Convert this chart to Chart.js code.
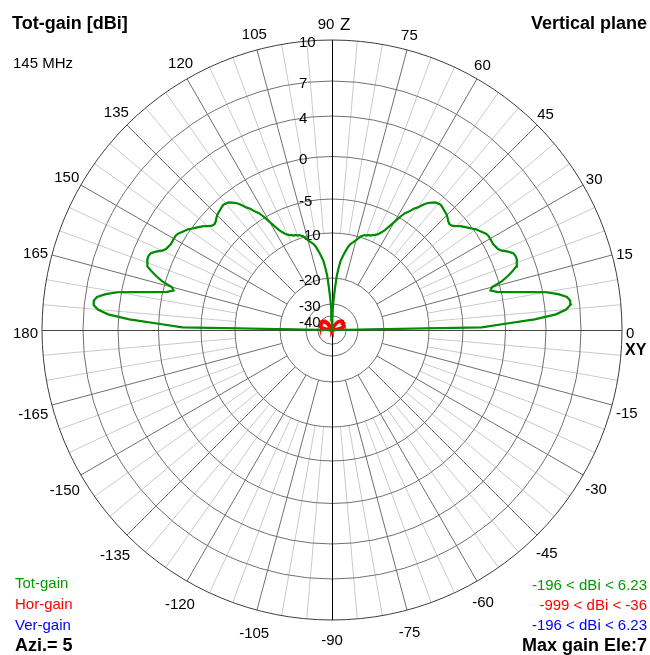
<!DOCTYPE html>
<html>
<head>
<meta charset="utf-8">
<script src="https://cdn.jsdelivr.net/npm/chart.js@4/dist/chart.umd.min.js"></script>
<style>
  html, body { margin: 0; padding: 0; background: #fff; }
  canvas { display: block; }
</style>
</head>
<body>
<canvas id="polarChart" width="650" height="655"></canvas>
<script>
// 仰角 (度) 0..180
const elevation = Array.from({ length: 181 }, (_, i) => i);

// 合成利得 [dBi]
const totGain = [
  -196, -2.8, -0.2, 2.9, 4.9, 5.8, 6.2, 6.23, 6.0, 5.3,
  4.3, 2.5, 0.9, -0.5, -1.2, -0.9, 0.3, 1.0, 1.6, 2.1,
  2.3, 2.4, 2.4, 2.3, 1.9, 1.4, 1.1, 1.0, 0.9, 0.9,
  0.9, 0.9, 0.8, 0.6, 0.4, 0.2, -0.1, -0.4, -0.7, -1.0,
  -1.4, -1.7, -1.8, -1.7, -1.5, -1.3, -1.2, -1.1, -1.0, -0.9,
  -1.0, -1.1, -1.4, -1.7, -2.2, -2.8, -3.2, -3.8, -4.2, -4.9,
  -5.9, -6.8, -7.6, -8.1, -8.5, -8.8, -9.0, -9.1, -9.3, -9.3,
  -9.5, -9.5, -9.7, -9.9, -10.4, -10.9, -11.3, -11.7, -12.1, -12.7,
  -13.6, -14.4, -15.3, -16.2, -17.8, -19.6, -24.2, -28.5, -34.5, -44.5,
  -196,
  -44.5, -34.5, -28.5, -24.2, -19.6, -17.8, -16.2, -15.3, -14.4, -13.6,
  -12.7, -12.1, -11.7, -11.3, -10.9, -10.4, -9.9, -9.7, -9.5, -9.5,
  -9.3, -9.3, -9.1, -9.0, -8.8, -8.5, -8.1, -7.6, -6.8, -5.9,
  -4.9, -4.2, -3.8, -3.2, -2.8, -2.2, -1.7, -1.4, -1.1, -1.0,
  -0.9, -1.0, -1.1, -1.2, -1.3, -1.5, -1.7, -1.8, -1.7, -1.4,
  -1.0, -0.7, -0.4, -0.1, 0.2, 0.4, 0.6, 0.8, 0.9, 0.9,
  0.9, 0.9, 1.0, 1.1, 1.4, 1.9, 2.3, 2.4, 2.4, 2.3,
  2.1, 1.6, 1.0, 0.3, -0.9, -1.2, -0.5, 0.9, 2.5, 4.3,
  5.3, 6.0, 6.23, 6.2, 5.8, 4.9, 2.9, -0.2, -2.8, -196
];

// 水平偏波成分 [dBi]
const horGain = [
  -999, -999, -999, -62, -58, -55, -53, -51, -49.5, -48,
  -47, -46, -45, -44.3, -43.7, -43.2, -42.8, -42.5, -42.2, -42,
  -41.8, -41.7, -41.6, -41.5, -41.5, -41.4, -41.3, -41.2, -41.2, -41.1,
  -41.1, -41.2, -41.3, -41.4, -41.5, -41.4, -41.3, -41.2, -41.1, -41.0,
  -41.0, -41.1, -41.2, -41.4, -41.6, -41.8, -42, -42.2, -42.4, -42.7,
  -43, -43.3, -43.6, -44, -44.4, -44.8, -45.3, -45.8, -46.3, -47,
  -47.7, -48.5, -49.4, -50.4, -51.5, -53, -55, -58, -62, -999,
  -999, -999, -999, -999, -999, -999, -999, -999, -999, -999,
  -999, -999, -999, -999, -999, -999, -999, -999, -999, -999,
  -999,
  -999, -999, -999, -999, -999, -999, -999, -999, -999, -999,
  -999, -999, -999, -999, -999, -999, -999, -999, -999, -999,
  -999, -62, -58, -55, -53, -51.5, -50.4, -49.4, -48.5, -47.7,
  -47, -46.3, -45.8, -45.3, -44.8, -44.4, -44, -43.6, -43.3, -43,
  -42.7, -42.4, -42.2, -42, -41.8, -41.6, -41.4, -41.2, -41.1, -41.0,
  -41.0, -41.1, -41.2, -41.3, -41.4, -41.5, -41.4, -41.3, -41.2, -41.1,
  -41.1, -41.2, -41.2, -41.3, -41.4, -41.5, -41.5, -41.6, -41.7, -41.8,
  -42, -42.2, -42.5, -42.8, -43.2, -43.7, -44.3, -45, -46, -47,
  -48, -49.5, -51, -53, -55, -58, -62, -999, -999, -999
];

// 垂直偏波成分 [dBi] (合成利得と同じ)
const verGain = totGain.slice();

// 目盛り
const ringTicks = [10, 7, 4, 0, -5, -10, -20, -30, -40];
const angleTicks = [0, 15, 30, 45, 60, 75, 90, 105, 120, 135, 150, 165,
  180, 195, 210, 225, 240, 255, 270, 285, 300, 315, 330, 345];
const angleLabels = ['0', '15', '30', '45', '60', '75', '90', '105', '120', '135', '150', '165',
  '180', '-165', '-150', '-135', '-120', '-105', '-90', '-75', '-60', '-45', '-30', '-15'];

// 半径方向の目盛り (dBi -> 外周=1 の半径)
const scaleGain = [-54, -40, -30, -20, -10, -5, 0, 4, 7, 10];
const scaleFrac = [0, 0.049, 0.0897, 0.1793, 0.3345, 0.4517, 0.5983, 0.7379, 0.8586, 1];

function gainToRadius(g) {
  if (g <= scaleGain[0]) return 0;
  for (let i = 1; i < scaleGain.length; i++) {
    if (g <= scaleGain[i]) {
      const t = (g - scaleGain[i - 1]) / (scaleGain[i] - scaleGain[i - 1]);
      return scaleFrac[i - 1] + t * (scaleFrac[i] - scaleFrac[i - 1]);
    }
  }
  return 1;
}

function toPoints(gains) {
  return elevation.map((el, i) => {
    const r = gainToRadius(gains[i]);
    const a = el * Math.PI / 180;
    return { x: r * Math.cos(a), y: r * Math.sin(a) };
  });
}

// キャンバス上の中心と外周半径
const CX = 332, CY = 330, R = 290;
const W = 650, H = 655;
const FONT = "'Liberation Sans', Arial, sans-serif";

const polarGrid = {
  id: 'polarGrid',
  beforeDatasetsDraw(chart) {
    const { ctx, scales: { x, y } } = chart;
    const cx = x.getPixelForValue(0), cy = y.getPixelForValue(0);
    const rx = x.getPixelForValue(1) - cx, ry = cy - y.getPixelForValue(1);
    const spoke = (r0, deg, color) => {
      const a = deg * Math.PI / 180;
      ctx.strokeStyle = color;
      ctx.beginPath();
      ctx.moveTo(cx + r0 * rx * Math.cos(a), cy - r0 * ry * Math.sin(a));
      ctx.lineTo(cx + rx * Math.cos(a), cy - ry * Math.sin(a));
      ctx.stroke();
    };
    ctx.save();
    ctx.lineWidth = 1;
    for (let a = 0; a < 360; a += 5) {
      if (a % 15 !== 0) spoke(gainToRadius(-10), a, '#cacaca');
    }
    for (let a = 0; a < 360; a += 15) {
      if (a % 90 !== 0) spoke(gainToRadius(-20), a, '#6e6e6e');
    }
    ringTicks.forEach(g => {
      const r = gainToRadius(g);
      ctx.strokeStyle = g === 10 ? '#3c3c3c' : '#707070';
      ctx.beginPath();
      ctx.ellipse(cx, cy, r * rx, r * ry, 0, 0, Math.PI * 2);
      ctx.stroke();
    });
    // 軸
    ctx.strokeStyle = '#444';
    ctx.beginPath();
    ctx.moveTo(cx - rx, cy + 0.5);
    ctx.lineTo(cx + rx, cy + 0.5);
    ctx.stroke();
    ctx.strokeStyle = '#000';
    ctx.beginPath();
    ctx.moveTo(cx + 0.5, cy - ry);
    ctx.lineTo(cx + 0.5, cy + ry);
    ctx.stroke();

    // dBi 目盛りラベル
    ctx.fillStyle = '#000';
    ctx.font = '15px ' + FONT;
    ctx.textAlign = 'left';
    ctx.textBaseline = 'middle';
    ringTicks.forEach(g => {
      const r = gainToRadius(g);
      const off = g === -40 ? 7 : 3;
      ctx.fillText(String(g), cx - 33, cy - r * ry + off);
    });
    ctx.restore();
  },
  afterDraw(chart) {
    const { ctx, scales: { x, y } } = chart;
    const cx = x.getPixelForValue(0), cy = y.getPixelForValue(0);
    const rx = x.getPixelForValue(1) - cx, ry = cy - y.getPixelForValue(1);
    ctx.save();
    ctx.fillStyle = '#000';
    ctx.font = '15px ' + FONT;
    ctx.textAlign = 'center';
    ctx.textBaseline = 'middle';
    angleTicks.forEach((deg, i) => {
      if (deg === 90) {
        ctx.fillText('90', cx - 6, cy - ry - 15);
        return;
      }
      const a = deg * Math.PI / 180;
      const c = Math.cos(a), s = Math.sin(a);
      const hw = 0.5 * ctx.measureText(angleLabels[i]).width * Math.abs(c);
      const lx = cx + (rx + 4 + hw + 3 * Math.abs(s)) * c;
      const ly = cy - (ry + 6 + hw + 11 * Math.abs(s)) * s + 4;
      ctx.fillText(angleLabels[i], lx, ly);
    });
    ctx.textAlign = 'left';
    ctx.font = '17px ' + FONT;
    ctx.fillText('Z', cx + 8, cy - ry - 15);
    ctx.font = 'bold 16px ' + FONT;
    ctx.fillText('XY', cx + rx + 3, cy + 21);

    // 見出し
    ctx.textBaseline = 'alphabetic';
    ctx.font = 'bold 18px ' + FONT;
    ctx.fillText('Tot-gain [dBi]', 12, 29);
    ctx.font = '15px ' + FONT;
    ctx.fillText('145 MHz', 13, 68);
    ctx.textAlign = 'right';
    ctx.font = 'bold 18px ' + FONT;
    ctx.fillText('Vertical plane', W - 3, 29);

    // 凡例
    ctx.textAlign = 'left';
    ctx.font = '15px ' + FONT;
    ctx.fillStyle = '#009a00';
    ctx.fillText('Tot-gain', 15, 588);
    ctx.fillStyle = '#ff0000';
    ctx.fillText('Hor-gain', 15, 608.5);
    ctx.fillStyle = '#0000ff';
    ctx.fillText('Ver-gain', 15, 629.5);
    ctx.fillStyle = '#000';
    ctx.font = 'bold 18px ' + FONT;
    ctx.fillText('Azi.= 5', 15, 651);

    ctx.textAlign = 'right';
    ctx.font = '15px ' + FONT;
    ctx.fillStyle = '#009a00';
    ctx.fillText('-196 < dBi < 6.23', W - 3, 589.5);
    ctx.fillStyle = '#ff0000';
    ctx.fillText('-999 < dBi < -36', W - 3, 610);
    ctx.fillStyle = '#0000ff';
    ctx.fillText('-196 < dBi < 6.23', W - 3, 630);
    ctx.fillStyle = '#000';
    ctx.font = 'bold 18px ' + FONT;
    ctx.fillText('Max gain Ele:7', W - 3, 650.5);
    ctx.restore();
  }
};

const ctx = document.getElementById('polarChart').getContext('2d');
new Chart(ctx, {
  type: 'scatter',
  data: {
    datasets: [
      {
        label: 'Tot-gain',
        data: toPoints(totGain),
        showLine: true,
        borderColor: 'rgb(0, 140, 0)',
        borderWidth: 2.2,
        pointRadius: 0,
        fill: false,
        order: 0
      },
      {
        label: 'Hor-gain',
        data: toPoints(horGain),
        showLine: true,
        borderColor: '#ff0000',
        backgroundColor: '#ff0000',
        borderWidth: 3.5,
        pointRadius: 0,
        fill: 'origin',
        order: 1
      },
      {
        label: 'Ver-gain',
        data: toPoints(verGain),
        showLine: true,
        borderColor: '#0000ff',
        borderWidth: 1,
        pointRadius: 0,
        fill: false,
        order: 2
      }
    ]
  },
  options: {
    responsive: false,
    animation: false,
    devicePixelRatio: 1,
    layout: { padding: 0 },
    plugins: {
      legend: { display: false },
      tooltip: { enabled: false }
    },
    scales: {
      x: { type: 'linear', min: -CX / R, max: (W - CX) / R, display: false },
      y: { type: 'linear', min: -(H - CY) / R, max: CY / R, display: false }
    }
  },
  plugins: [polarGrid]
});
</script>
</body>
</html>
